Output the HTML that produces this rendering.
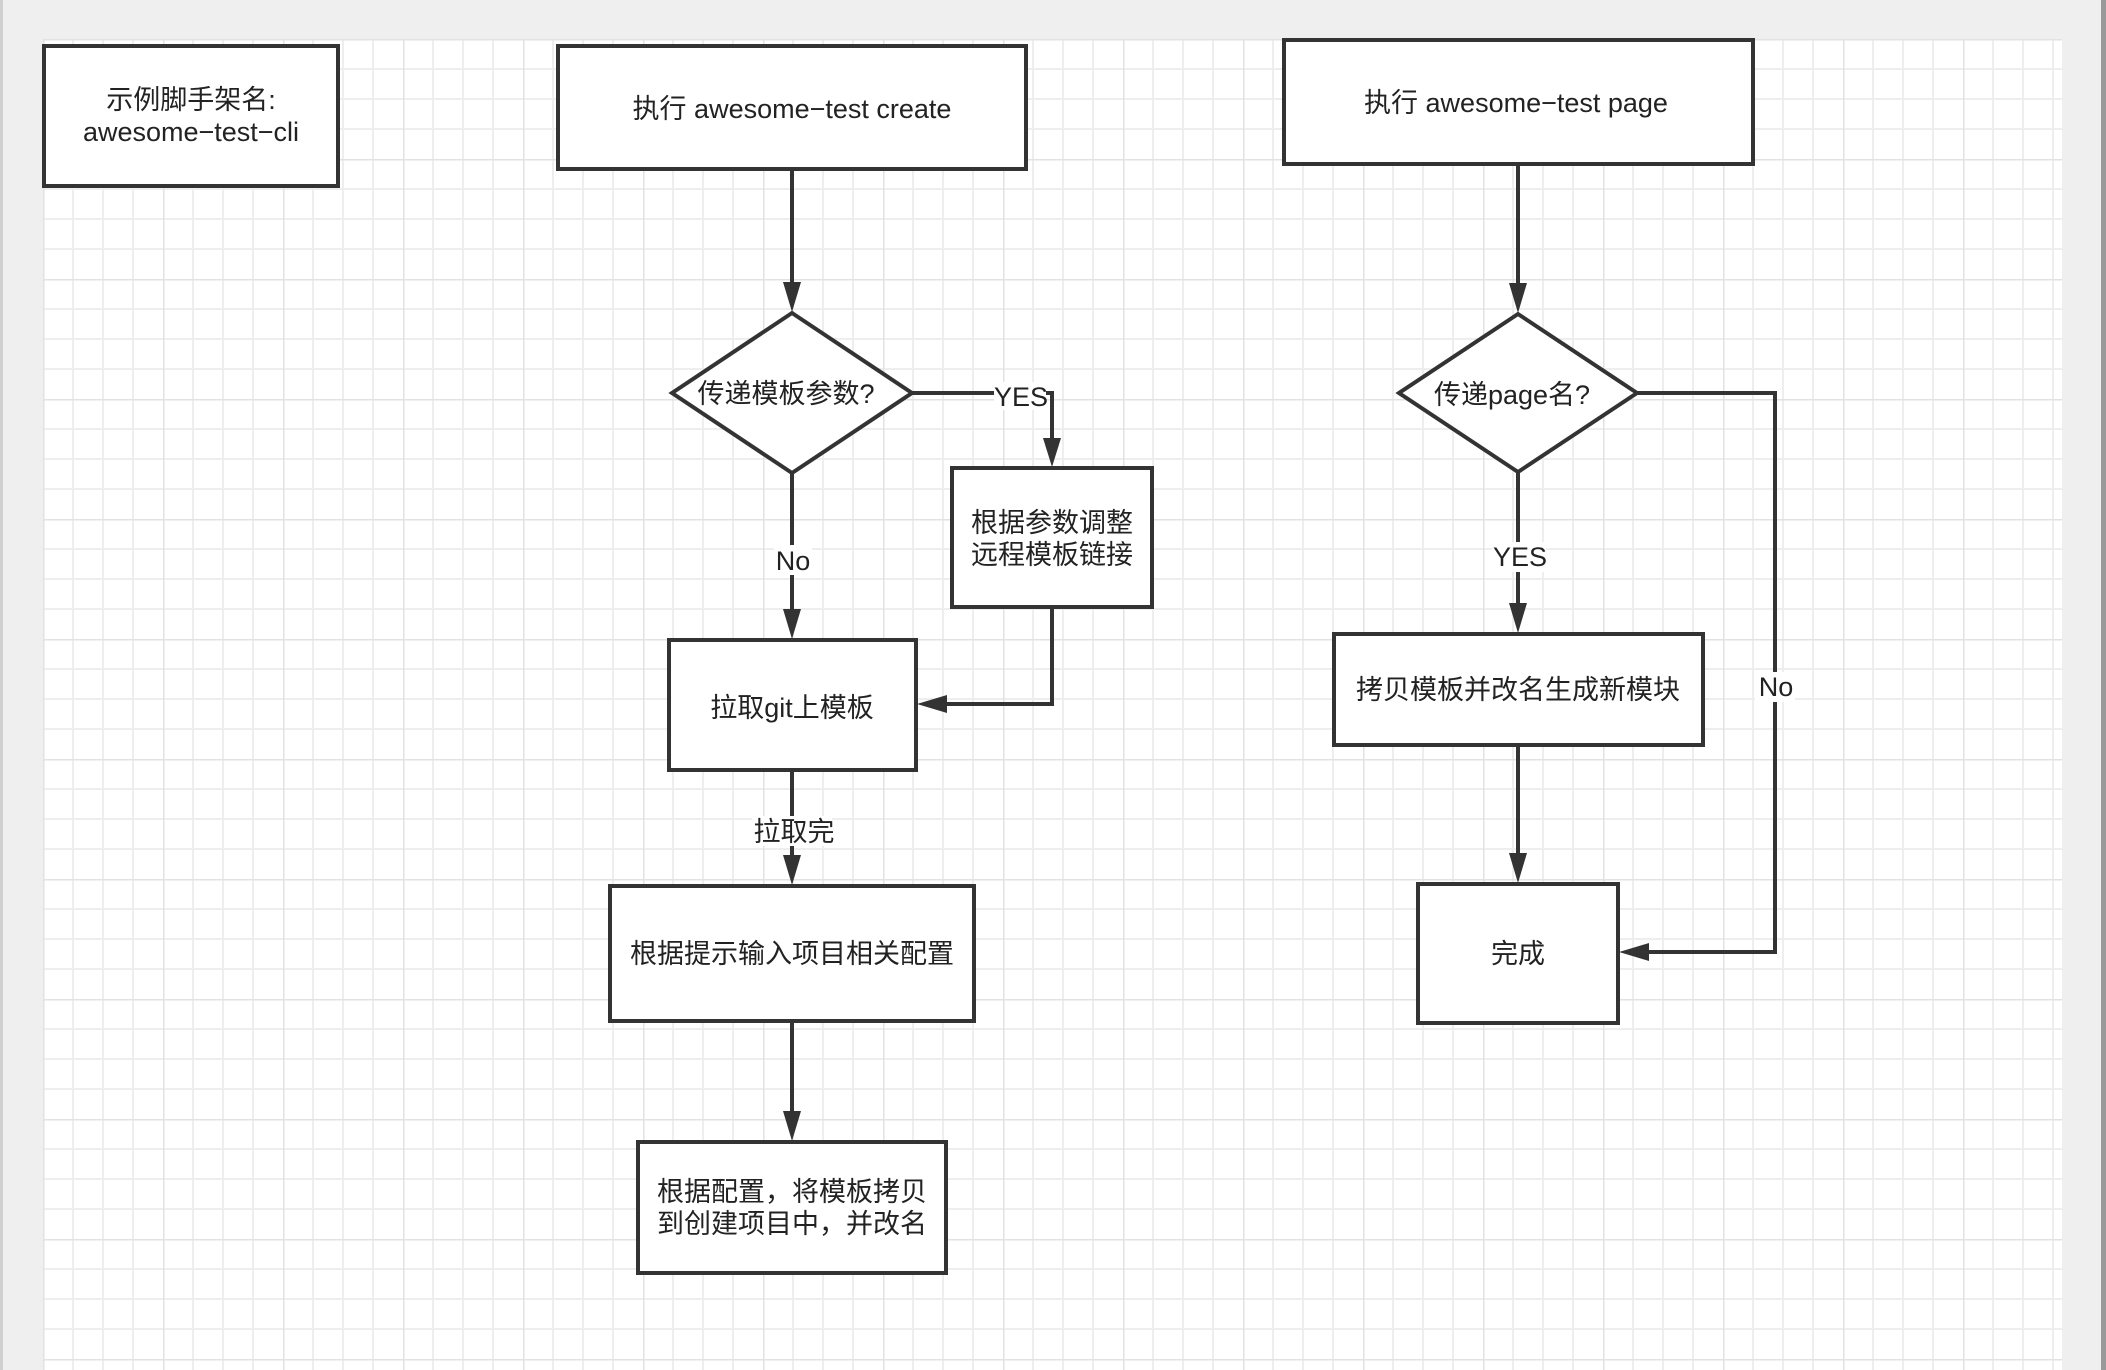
<!DOCTYPE html>
<html><head><meta charset="utf-8"><style>
html,body{margin:0;padding:0;width:2106px;height:1370px;overflow:hidden;background:#efefef}
svg{display:block}
text{font-family:"Liberation Sans","Noto Sans CJK SC",sans-serif;font-size:27px;fill:#222}
</style></head><body>
<svg width="2106" height="1370" viewBox="0 0 2106 1370" xmlns="http://www.w3.org/2000/svg">
<defs>
<pattern id="g" x="43" y="39" width="120" height="120" patternUnits="userSpaceOnUse">
<rect width="120" height="120" fill="#fff"/>
<path d="M30 0V120M60 0V120M90 0V120M0 30H120M0 60H120M0 90H120" stroke="#eeeeee" stroke-width="2"/>
<path d="M0 0V120M0 0H120" stroke="#e2e2e2" stroke-width="3"/>
</pattern>
</defs>
<rect x="0" y="0" width="3" height="1370" fill="#d0d0d0"/>
<rect x="2101" y="0" width="5" height="1370" fill="#999"/>
<rect x="43" y="39" width="2019" height="1331" fill="url(#g)"/>
<g fill="#fff" stroke="#333" stroke-width="4">
<rect x="44" y="46" width="294" height="140"/>
<rect x="558" y="46" width="468" height="123"/>
<rect x="1284" y="40" width="469" height="124"/>
<polygon points="792,313 912,393 792,473 672,393"/>
<rect x="952" y="468" width="200" height="139"/>
<rect x="669" y="640" width="247" height="130"/>
<rect x="610" y="886" width="364" height="135"/>
<rect x="638" y="1142" width="308" height="131"/>
<polygon points="1518,314 1637,393 1518,472 1399,393"/>
<rect x="1334" y="634" width="369" height="111"/>
<rect x="1418" y="884" width="200" height="139"/>
</g>
<g fill="none" stroke="#333" stroke-width="4">
<path d="M792 169V290"/>
<path d="M912 393H1052V445"/>
<path d="M792 473V615"/>
<path d="M1052 607V704H940"/>
<path d="M792 770V862"/>
<path d="M792 1021V1118"/>
<path d="M1518 164V290"/>
<path d="M1518 472V610"/>
<path d="M1518 745V860"/>
<path d="M1637 393H1775V952H1642"/>
</g>
<g fill="#333">
<path d="M783 282L801 282L792 312Z"/>
<path d="M1043 438L1061 438L1052 467Z"/>
<path d="M783 609L801 609L792 639Z"/>
<path d="M947 695L947 713L917 704Z"/>
<path d="M783 855L801 855L792 885Z"/>
<path d="M783 1111L801 1111L792 1141Z"/>
<path d="M1509 283L1527 283L1518 313Z"/>
<path d="M1509 603L1527 603L1518 633Z"/>
<path d="M1509 853L1527 853L1518 883Z"/>
<path d="M1649 943L1649 961L1619 952Z"/>
</g>
<g fill="#fff">
<rect x="994" y="382" width="52" height="28"/>
<rect x="774" y="545" width="38" height="30"/>
<rect x="752" y="816" width="80" height="30"/>
<rect x="1492" y="542" width="54" height="30"/>
<rect x="1755" y="672" width="40" height="30"/>
</g>
<g text-anchor="middle">
<text x="191" y="109">示例脚手架名:</text>
<text x="191" y="141">awesome−test−cli</text>
<text x="792" y="118">执行 awesome−test create</text>
<text x="1516" y="112">执行 awesome−test page</text>
<text x="786" y="403">传递模板参数?</text>
<text x="1052" y="532">根据参数调整</text>
<text x="1052" y="564">远程模板链接</text>
<text x="792" y="717">拉取git上模板</text>
<text x="792" y="963">根据提示输入项目相关配置</text>
<text x="792" y="1201">根据配置，将模板拷贝</text>
<text x="792" y="1233">到创建项目中，并改名</text>
<text x="1512" y="404">传递page名?</text>
<text x="1518" y="699">拷贝模板并改名生成新模块</text>
<text x="1518" y="963">完成</text>
<text x="1021" y="406">YES</text>
<text x="793" y="570">No</text>
<text x="794" y="841">拉取完</text>
<text x="1520" y="566">YES</text>
<text x="1776" y="696">No</text>
</g>
</svg>
</body></html>
